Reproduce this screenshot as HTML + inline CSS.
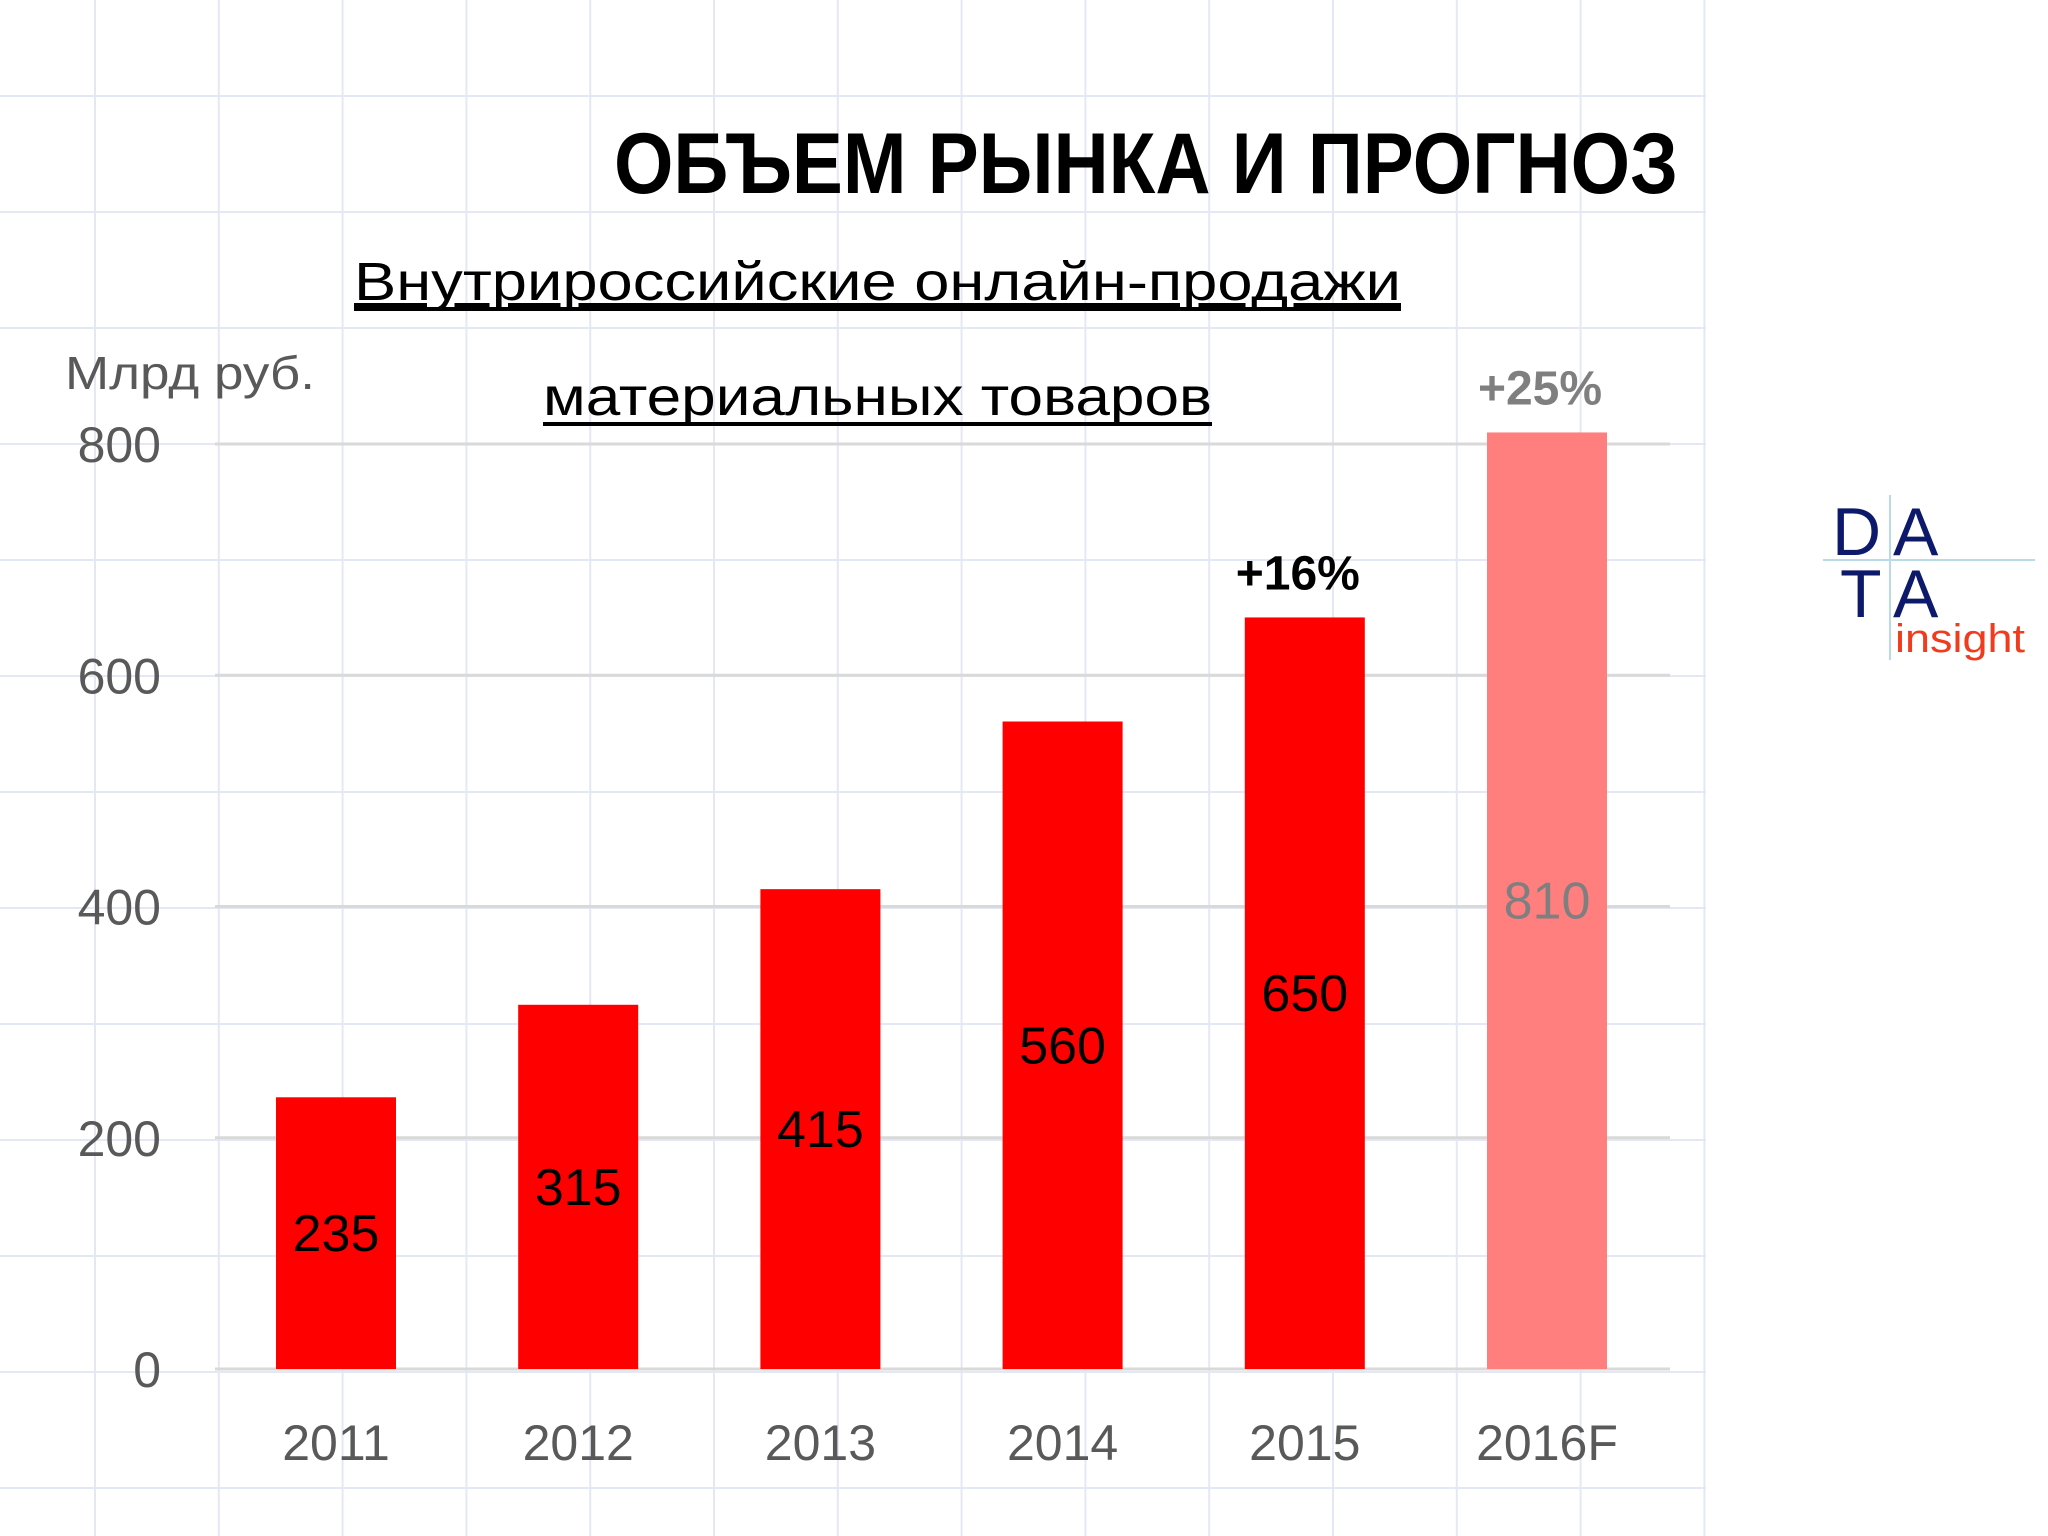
<!DOCTYPE html>
<html><head><meta charset="utf-8"><style>
html,body{margin:0;padding:0;background:#fff}
svg{display:block}
text{font-family:"Liberation Sans","DejaVu Sans",sans-serif}
</style></head><body>
<svg id="c" width="2048" height="1536" viewBox="0 0 2048 1536">
<rect width="2048" height="1536" fill="#fff"/>
<g id="paper"></g>
<text x="1678" y="193" font-size="86" font-weight="bold" text-anchor="end" textLength="1064" lengthAdjust="spacingAndGlyphs" fill="#000">ОБЪЕМ РЫНКА И ПРОГНОЗ</text>
<text x="354" y="300" font-size="54" textLength="1047" lengthAdjust="spacingAndGlyphs" fill="#000" text-decoration="underline">Внутрироссийские онлайн-продажи</text>
<line x1="354" y1="309" x2="1401" y2="309" stroke="#000" stroke-width="4"/>
<text x="543" y="415" font-size="54" textLength="669" lengthAdjust="spacingAndGlyphs" fill="#000">материальных товаров</text>
<line x1="543" y1="424" x2="1212" y2="424" stroke="#000" stroke-width="4"/>
<text x="65" y="389" font-size="46" textLength="250" lengthAdjust="spacingAndGlyphs" fill="#595959">Млрд руб.</text>
<g id="plot"></g>
<g>
<line x1="1823" y1="560" x2="2035" y2="560" stroke="#b8dbe6" stroke-width="2"/>
<line x1="1890" y1="495" x2="1890" y2="660" stroke="#b8dbe6" stroke-width="2"/>
<text x="1832" y="555" font-size="68" fill="#0d1a6b">D</text>
<text x="1893" y="555" font-size="68" fill="#0d1a6b">A</text>
<text x="1840" y="617" font-size="68" fill="#0d1a6b">T</text>
<text x="1893" y="617" font-size="68" fill="#0d1a6b">A</text>
<text x="1895" y="652" font-size="40" fill="#f03c1e" textLength="130" lengthAdjust="spacingAndGlyphs">insight</text>
</g>
</svg>
<script>
const categories = ["2011","2012","2013","2014","2015","2016F"];
const values = [235, 315, 415, 560, 650, 810];
const forecast = [false,false,false,false,false,true];
const yTicks = [0,200,400,600,800];
const growthLabels = [{i:4,text:"+16%",color:"#000"},{i:5,text:"+25%",color:"#7f7f7f"}];

const NS="http://www.w3.org/2000/svg";
const y0=1369, y800=444, yMax=800;
const yScale=v=>y0-(v/yMax)*(y0-y800);
const x0=336, step=242.2, barW=120;
const xScale=i=>x0+i*step;
function mk(tag,attrs,parent,txt){const e=document.createElementNS(NS,tag);for(const k in attrs)e.setAttribute(k,attrs[k]);if(txt!==undefined)e.textContent=txt;parent.appendChild(e);return e;}

const paper=document.getElementById('paper');
for(let k=0;k<14;k++){const x=95+k*123.8;
 const l=mk('line',{x1:x,y1:0,x2:x,y2:1536,stroke:'#e4e8f4','stroke-width':2},paper);
 
 }
for(let k=-3;k<10;k++){const y=444+k*116;
 const l=mk('line',{x1:0,y1:y,x2:1706,y2:y,stroke:'#e4e8f4','stroke-width':2},paper);
 
 }

const plot=document.getElementById('plot');
yTicks.forEach(t=>{const y=yScale(t);
 const g=mk('line',{x1:215,y1:y,x2:1670,y2:y,stroke:'#d9d9d9','stroke-width':3},plot);
 
 
 const lb=mk('text',{x:161,y:y+18,'font-size':50,'text-anchor':'end',fill:'#595959'},plot,String(t));
 
 });
categories.forEach((c,i)=>{const cx=xScale(i), v=values[i], top=yScale(v);
 const r=mk('rect',{x:cx-barW/2,y:top,width:barW,height:y0-top,fill:forecast[i]?'#ff7f7f':'#ff0000'},plot);
 
 
 const vl=mk('text',{x:cx,y:(top+y0)/2+18,'font-size':52,'text-anchor':'middle',fill:forecast[i]?'#7f7f7f':'#000'},plot,String(v));
 
 
 const xl=mk('text',{x:cx,y:1460,'font-size':50,'text-anchor':'middle',fill:'#595959'},plot,c);
 
 });
growthLabels.forEach(g=>{const cx=xScale(g.i), top=yScale(values[g.i]);
 const t=mk('text',{x:cx-7,y:top-28,'font-size':48,'font-weight':'bold','text-anchor':'middle',fill:g.color},plot,g.text);
 
 });
</script>
</body></html>
